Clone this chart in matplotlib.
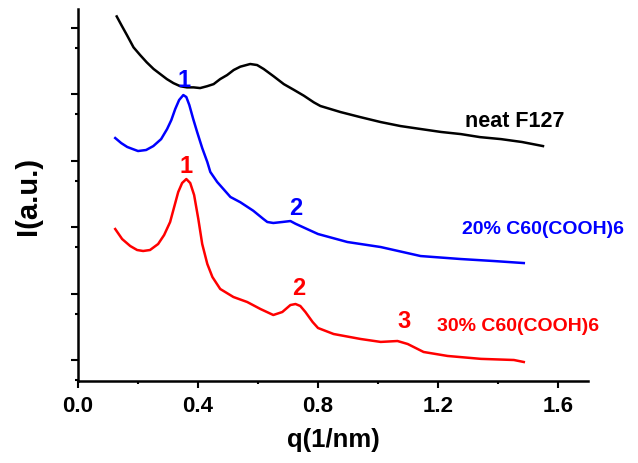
import matplotlib
matplotlib.use("Agg")
import matplotlib.pyplot as plt
from matplotlib.ticker import LogLocator, NullFormatter, MultipleLocator

plt.rcParams["font.family"] = ["Liberation Sans", "DejaVu Sans"]
plt.rcParams["font.weight"] = "bold"

# neat F127 (black)
q_neat = [0.129, 0.146, 0.163, 0.185, 0.207, 0.229, 0.252, 0.274, 0.296, 0.318, 0.341,
          0.363, 0.385, 0.407, 0.430, 0.452, 0.474, 0.497, 0.519, 0.541, 0.574, 0.597,
          0.619, 0.652, 0.686, 0.719, 0.753, 0.786, 0.808, 0.875, 0.94, 1.009, 1.075,
          1.142, 1.21, 1.276, 1.34, 1.41, 1.48, 1.55]
i_neat = [1.47e5, 1.06e5, 7.71e4, 5.04e4, 3.86e4, 3.00e4, 2.38e4, 2.00e4, 1.68e4, 1.46e4,
          1.31e4, 1.26e4, 1.26e4, 1.23e4, 1.31e4, 1.41e4, 1.68e4, 1.93e4, 2.30e4, 2.58e4,
          2.83e4, 2.73e4, 2.38e4, 1.85e4, 1.41e4, 1.16e4, 9.43e3, 7.50e3, 6.61e3, 5.36e3,
          4.51e3, 3.79e3, 3.30e3, 2.98e3, 2.69e3, 2.50e3, 2.25e3, 2.10e3, 1.90e3, 1.65e3]

# 20% C60(COOH)6 (blue)
q_20 = [0.124, 0.144, 0.164, 0.182, 0.200, 0.227, 0.251, 0.277, 0.297, 0.311, 0.324,
        0.337, 0.351, 0.361, 0.371, 0.384, 0.397, 0.414, 0.431, 0.441, 0.464, 0.508,
        0.541, 0.584, 0.618, 0.631, 0.651, 0.681, 0.708, 0.725, 0.765, 0.80, 0.898,
        1.009, 1.142, 1.276, 1.386, 1.486]
i_20 = [2.18e3, 1.83e3, 1.60e3, 1.49e3, 1.39e3, 1.44e3, 1.65e3, 2.10e3, 2.98e3, 4.06e3,
        5.95e3, 8.13e3, 9.66e3, 9.02e3, 6.84e3, 4.21e3, 2.69e3, 1.54e3, 949, 673, 475,
        283, 236, 176, 132, 119, 115, 119, 123, 112, 92.6, 78.5, 59.5, 50.0, 36.6,
        33.0, 30.8, 28.7]

# 30% C60(COOH)6 (red)
q_30 = [0.124, 0.147, 0.174, 0.197, 0.217, 0.240, 0.267, 0.287, 0.307, 0.334, 0.347,
        0.361, 0.374, 0.387, 0.401, 0.414, 0.431, 0.448, 0.474, 0.518, 0.564, 0.608,
        0.651, 0.681, 0.708, 0.725, 0.741, 0.758, 0.782, 0.80, 0.852, 0.942, 1.009,
        1.065, 1.099, 1.152, 1.232, 1.343, 1.453, 1.486]
i_30 = [93.3, 66.0, 51.8, 45.1, 43.6, 45.1, 55.5, 75.8, 119, 336, 459, 527, 459, 303,
        132, 55.5, 27.8, 17.7, 11.7, 8.86, 7.45, 5.85, 4.75, 5.27, 6.71, 6.95, 6.49,
        5.27, 3.73, 3.03, 2.46, 2.07, 1.87, 1.93, 1.74, 1.32, 1.15, 1.04, 1.00, 0.933]

# peak index labels
peak_q = [0.354, 0.726, 0.361, 0.735, 1.086]
peak_i = [1.68e4, 1.95e2, 855, 12.5, 3.86]
peak_txt = ["1", "2", "1", "2", "3"]
peak_col = ["blue", "blue", "red", "red", "red"]

fig = plt.figure(figsize=(6.38, 4.64), dpi=100)
ax = fig.add_axes([0.1223, 0.1767, 0.7993, 0.8017])

ax.plot(q_neat, i_neat, color="black", lw=1.8)
ax.plot(q_20, i_20, color="blue", lw=1.8)
ax.plot(q_30, i_30, color="red", lw=1.8)

ax.set_yscale("log")
ax.set_xlim(0, 1.7)
ax.set_ylim(0.483, 1.9e5)

for q, i, t, c in zip(peak_q, peak_i, peak_txt, peak_col):
    ax.text(q, i, t, color=c, fontsize=17, fontweight="bold", ha="center", va="center")

ax.text(1.456, 4.06e3, "neat F127", color="black", fontsize=15.5, fontweight="bold",
        ha="center", va="center")
ax.text(1.55, 96.6, "20% C60(COOH)6", color="blue", fontsize=14, fontweight="bold",
        ha="center", va="center")
ax.text(1.466, 3.36, "30% C60(COOH)6", color="red", fontsize=14, fontweight="bold",
        ha="center", va="center")

ax.set_xlabel("q(1/nm)", fontsize=18.5, fontweight="bold", labelpad=8)
ax.set_ylabel("I(a.u.)", fontsize=21, fontweight="bold", labelpad=16)

ax.xaxis.set_major_locator(MultipleLocator(0.4))
ax.xaxis.set_minor_locator(MultipleLocator(0.2))
ax.yaxis.set_major_locator(LogLocator(base=10, numticks=20))
ax.yaxis.set_minor_locator(LogLocator(base=10, subs=[5.0], numticks=20))
ax.yaxis.set_major_formatter(NullFormatter())
ax.yaxis.set_minor_formatter(NullFormatter())

ax.tick_params(which="major", direction="out", length=5, width=1.5, labelsize=16, pad=5)
ax.tick_params(which="minor", direction="out", length=2.5, width=1.5)
for lbl in ax.get_xticklabels():
    lbl.set_fontweight("bold")

ax.spines["top"].set_visible(False)
ax.spines["right"].set_visible(False)
ax.spines["left"].set_linewidth(1.8)
ax.spines["bottom"].set_linewidth(1.8)

fig.savefig("out.png", dpi=100)
